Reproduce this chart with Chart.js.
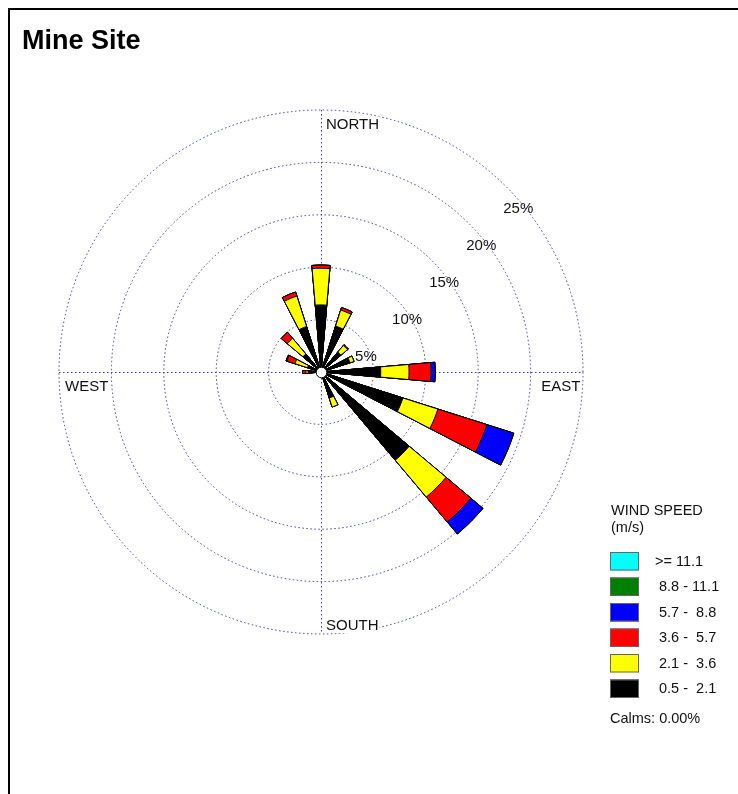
<!DOCTYPE html>
<html>
<head>
<meta charset="utf-8">
<title>Mine Site</title>
<script src="https://cdn.jsdelivr.net/npm/chart.js@4.4.1/dist/chart.umd.min.js"></script>
<style>
  html, body { margin: 0; padding: 0; background: #fff; overflow: hidden; }
  #frame { position: absolute; left: 8px; top: 8px; width: 780px; height: 840px;
           border-left: 2px solid #000; border-top: 2px solid #000; }
  #wrap { position: absolute; left: 0; top: 0; width: 738px; height: 794px; }
</style>
</head>
<body>
<div id="frame"></div>
<div id="wrap"><canvas id="rose" width="738" height="794"></canvas></div>
<script>
// 16 compass sectors, clockwise from north
const directions = ['N', 'NNE', 'NE', 'ENE', 'E', 'ESE', 'SE', 'SSE',
                    'S', 'SSW', 'SW', 'WSW', 'W', 'WNW', 'NW', 'NNW'];

// Frequency of occurrence (%) per sector for each wind speed class (m/s)
const speed05to21  = [6.4, 4.6, 2.5, 2.9, 5.7, 8.2, 11.0, 2.6, 0.4, 0.4, 0.4, 0.4, 1.2, 1.35, 2.25, 4.55];
const speed21to36  = [3.5, 1.6, 0.8, 0.4, 2.7, 3.5, 4.6, 0.9, 0, 0, 0, 0, 0.25, 1.25, 1.95, 3.05];
const speed36to57  = [0.3, 0.25, 0.1, 0, 2.1, 4.9, 3.1, 0, 0, 0, 0, 0, 0.3, 0.8, 0.75, 0.4];
const speed57to88  = [0, 0, 0, 0, 0.4, 2.7, 1.5, 0, 0, 0, 0, 0, 0, 0.1, 0, 0];
const speed88to111 = [0, 0, 0, 0, 0, 0, 0, 0, 0, 0, 0, 0, 0, 0, 0, 0];
const speedOver111 = [0, 0, 0, 0, 0, 0, 0, 0, 0, 0, 0, 0, 0, 0, 0, 0];

const classLabels = [' 0.5 -  2.1', ' 2.1 -  3.6', ' 3.6 -  5.7', ' 5.7 -  8.8', ' 8.8 - 11.1', '>= 11.1'];
const classColors = ['#000000', '#ffff00', '#ff0000', '#0000ff', '#008000', '#00ffff'];
const ringValues = [5, 10, 15, 20, 25];
const calmsText = 'Calms: 0.00%';
const chartTitle = 'Mine Site';

const FONT = "'Liberation Sans', Arial, Helvetica, sans-serif";
const GRID_COLOR = '#3a3ab8';
const GRID_DASH = [1.5, 2.5];
const PETAL_DEG = 9.8;               // angular width of each petal
const GAP_DEG = 22.5 - PETAL_DEG;    // empty space between neighbouring petals

// Petals are stacked: every class is drawn out to its cumulative total,
// the lower classes are painted on top of the higher ones.
const bands = [speed05to21, speed21to36, speed36to57, speed57to88, speed88to111, speedOver111];
const cumulative = bands.map((_, b) =>
  directions.map((_, d) => bands.slice(0, b + 1).reduce((s, arr) => s + arr[d], 0)));

// each sector becomes a petal slot followed by an empty gap slot
const slotLabels = [];
directions.forEach(d => { slotLabels.push(d, ''); });
const toSlots = arr => { const out = []; arr.forEach(v => { out.push(v, 0); }); return out; };

const datasets = bands.map((_, b) => ({
  label: classLabels[b],
  data: toSlots(cumulative[b]),
  backgroundColor: classColors[b],
  borderColor: '#000000',
  borderWidth: ctx => (ctx.dataIndex % 2 === 0 ? 1 : 0),
  angle: ctx => (ctx.dataIndex % 2 === 0 ? PETAL_DEG : GAP_DEG)
}));

const roseDecor = {
  id: 'roseDecor',
  beforeDatasetsDraw(chart) {
    const s = chart.scales.r, ctx = chart.ctx;
    const R = s.drawingArea, cx = s.xCenter, cy = s.yCenter;
    ctx.save();
    ctx.strokeStyle = GRID_COLOR;
    ctx.lineWidth = 1;
    ctx.setLineDash(GRID_DASH);
    ctx.beginPath();
    ctx.moveTo(cx - R, cy + 0.5); ctx.lineTo(cx + R, cy + 0.5);
    ctx.moveTo(cx + 0.5, cy - R); ctx.lineTo(cx + 0.5, cy + R);
    ctx.stroke();
    ctx.restore();
  },
  afterDatasetsDraw(chart) {
    const s = chart.scales.r, ctx = chart.ctx;
    const R = s.drawingArea, cx = s.xCenter, cy = s.yCenter;
    ctx.save();
    // calm circle
    ctx.beginPath();
    ctx.arc(cx + 0.5, cy + 0.5, 5.3, 0, Math.PI * 2);
    ctx.fillStyle = '#ffffff';
    ctx.fill();
    ctx.strokeStyle = '#000000';
    ctx.lineWidth = 1;
    ctx.stroke();

    // ring percentages along the north-east diagonal
    ctx.font = '15px ' + FONT;
    ctx.fillStyle = '#111111';
    ctx.textAlign = 'left';
    ctx.textBaseline = 'middle';
    ringValues.forEach(v => {
      const r = s.getDistanceFromCenterForValue(v);
      ctx.fillText(v + '%', cx + r * Math.SQRT1_2 - 3, cy - r * Math.SQRT1_2 + 22);
    });

    // compass words
    ctx.textBaseline = 'alphabetic';
    const boxed = (txt, x, y) => {
      const w = ctx.measureText(txt).width;
      ctx.fillStyle = '#ffffff';
      ctx.fillRect(x - 1, y - 12, w + 2, 15);
      ctx.fillStyle = '#111111';
      ctx.fillText(txt, x, y);
    };
    boxed('NORTH', cx + 5, cy - R + 18.5);
    boxed('SOUTH', cx + 5, cy + R - 4);
    ctx.fillText('WEST', cx - R + 6, cy + 18.7);
    ctx.textAlign = 'right';
    ctx.fillText('EAST', cx + R - 2.5, cy + 18.7);
    ctx.restore();
  },
  afterDraw(chart) {
    const ctx = chart.ctx;
    ctx.save();
    // title
    ctx.font = 'bold 27px ' + FONT;
    ctx.fillStyle = '#000000';
    ctx.textAlign = 'left';
    ctx.textBaseline = 'alphabetic';
    ctx.fillText(chartTitle, 22, 49);

    // speed class key
    ctx.font = '14.5px ' + FONT;
    ctx.fillStyle = '#111111';
    ctx.fillText('WIND SPEED', 611, 515);
    ctx.fillText('(m/s)', 611, 532);
    const sets = chart.data.datasets;
    for (let i = sets.length - 1, row = 0; i >= 0; i--, row++) {
      const top = 552 + row * 25.5;
      ctx.fillStyle = sets[i].backgroundColor;
      ctx.fillRect(610, top, 29, 18.5);
      ctx.strokeStyle = '#666666';
      ctx.lineWidth = 1;
      ctx.strokeRect(610.5, top + 0.5, 28, 17.5);
      ctx.fillStyle = '#111111';
      ctx.textBaseline = 'middle';
      ctx.fillText(sets[i].label, 655, top + 9.5);
    }
    ctx.textBaseline = 'alphabetic';
    ctx.fillText(calmsText, 610, 723);
    ctx.restore();
  }
};

new Chart(document.getElementById('rose'), {
  type: 'polarArea',
  data: { labels: slotLabels, datasets },
  options: {
    responsive: false,
    devicePixelRatio: 1,
    animation: false,
    layout: { padding: { left: 59, top: 110, right: 155, bottom: 160 } },
    plugins: { legend: { display: false }, tooltip: { enabled: false }, title: { display: false } },
    scales: {
      r: {
        min: 0,
        max: 25,
        startAngle: -PETAL_DEG / 2,
        ticks: { display: false, stepSize: 5 },
        grid: { color: GRID_COLOR, lineWidth: 1, circular: true },
        border: { dash: GRID_DASH },
        angleLines: { display: false },
        pointLabels: { display: false }
      }
    }
  },
  plugins: [roseDecor]
});
</script>
</body>
</html>
